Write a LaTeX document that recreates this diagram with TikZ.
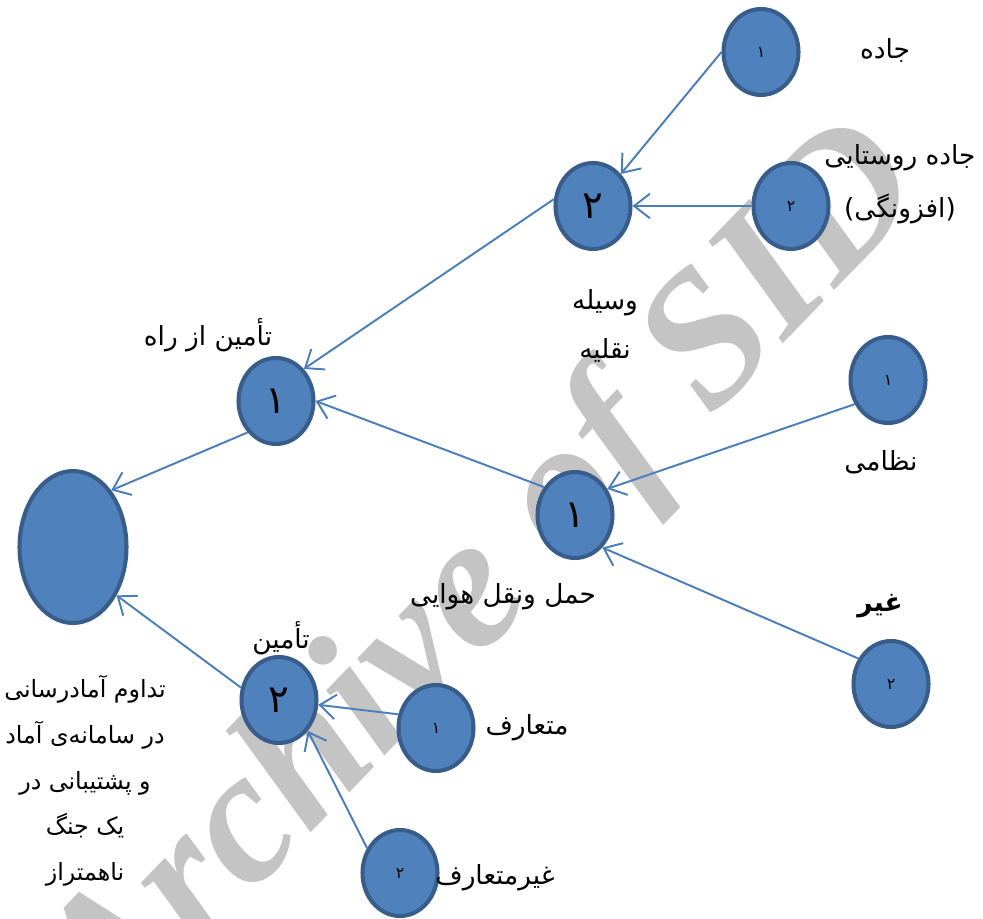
\documentclass[tikz,border=0pt]{standalone}
\usepackage{fontspec}
\setmainfont{Liberation Serif}
\newfontfamily\arabicfont[Script=Arabic]{DejaVu Sans}
\TeXXeTstate=1
\usetikzlibrary{shapes.geometric, arrows.meta, positioning}

\definecolor{circfill}{HTML}{4F81BD}
\definecolor{circedge}{HTML}{385D8A}
\definecolor{linkblue}{HTML}{4A7EBB}
\definecolor{markgray}{HTML}{C4C4C4}

\newcommand{\fa}[1]{{\arabicfont\beginR #1\endR}}

\begin{document}
\begin{tikzpicture}[>={Straight Barb[length=9pt,width=14pt]}, align=center,
  circ/.style={ellipse, draw=circedge, fill=circfill, line width=2.3pt,
    minimum width=1.5cm, minimum height=1.72cm, inner sep=0pt},
  bigdigit/.style={font=\arabicfont\fontsize{22}{22}\selectfont},
  smalldigit/.style={font=\arabicfont\fontsize{9}{9}\selectfont},
  lbl/.style={font=\fontsize{15}{28}\selectfont, inner sep=0pt},
  link/.style={->, draw=linkblue, line width=1.1pt}]
  \useasboundingbox (0,0) rectangle (19.66,18.36);

  % watermark
  \node[text=markgray, rotate=46, font=\fontsize{108}{108}\selectfont\bfseries\itshape]
    (mark) at (9.75,6.7) {Archive of SID};

  \node[circ, minimum width=2.14cm, minimum height=3.04cm] (root) at (1.46,7.42) {};

  \node[circ, bigdigit] (road) at (5.52,10.34) {۱};
  \node[circ, bigdigit] (supply) at (5.58,4.36) {۲};
  \node[circ, bigdigit] (vehicle) at (11.86,14.24) {۲};
  \node[circ, bigdigit] (air) at (11.50,8.06) {۱};

  \node[circ, smalldigit] (jade) at (15.22,17.32) {۱};
  \node[circ, smalldigit] (rural) at (15.82,14.24) {۲};
  \node[circ, smalldigit] (mil) at (17.76,10.76) {۱};
  \node[circ, smalldigit] (nonmil) at (17.82,4.68) {۲};
  \node[circ, smalldigit] (conv) at (8.72,3.80) {۱};
  \node[circ, smalldigit] (unconv) at (8.00,0.90) {۲};

  % labels
  \node[lbl] (tjade) at (17.70,17.36) {\fa{جاده}};
  \node[lbl, font=\fontsize{15}{30}\selectfont] (trural) at (18.00,14.68) {\fa{جاده روستایی}\\\fa{(افزونگی)}};
  \node[lbl] (tvehicle) at (12.10,11.84) {\fa{وسیله}\\\fa{نقلیه}};
  \node[lbl] (troad) at (4.16,11.66) {\fa{تأمین از راه}};
  \node[lbl] (tmil) at (17.62,9.12) {\fa{نظامی}};
  \node[lbl, font=\fontsize{15}{28}\selectfont\bfseries] (tnonmil) at (17.60,6.24) {\fa{غیر}};
  \node[lbl] (tair) at (10.06,6.42) {\fa{حمل ونقل هوایی}};
  \node[lbl] (tsupply) at (5.62,5.60) {\fa{تأمین}};
  \node[lbl] (tconv) at (10.54,3.80) {\fa{متعارف}};
  \node[lbl] (tunconv) at (9.90,0.80) {\fa{غیرمتعارف}};
  \node[lbl, font=\fontsize{13.5}{26}\selectfont] (troot) at (1.70,2.74)
    {\fa{تداوم آمادرسانی}\\\fa{در سامانه‌ی آماد}\\\fa{و پشتیبانی در}\\\fa{یک جنگ}\\\fa{ناهمتراز}};

  % connectors
  \draw[link] (jade.180) -- (vehicle.49);
  \draw[link] (rural.west) -- (vehicle.east);
  \draw[link] (vehicle.170) -- (road.49);
  \draw[link] (air.138) -- (road.east);
  \draw[link] (road.228) -- (root.56);
  \draw[link] (mil.216) -- (air.39);
  \draw[link] (nonmil.142) -- (air.-50);
  \draw[link] (supply.162) -- (root.-48);
  \draw[link] (conv.160) -- (supply.-7);
  \draw[link] (unconv.143) -- (supply.-47);
\end{tikzpicture}
\end{document}
